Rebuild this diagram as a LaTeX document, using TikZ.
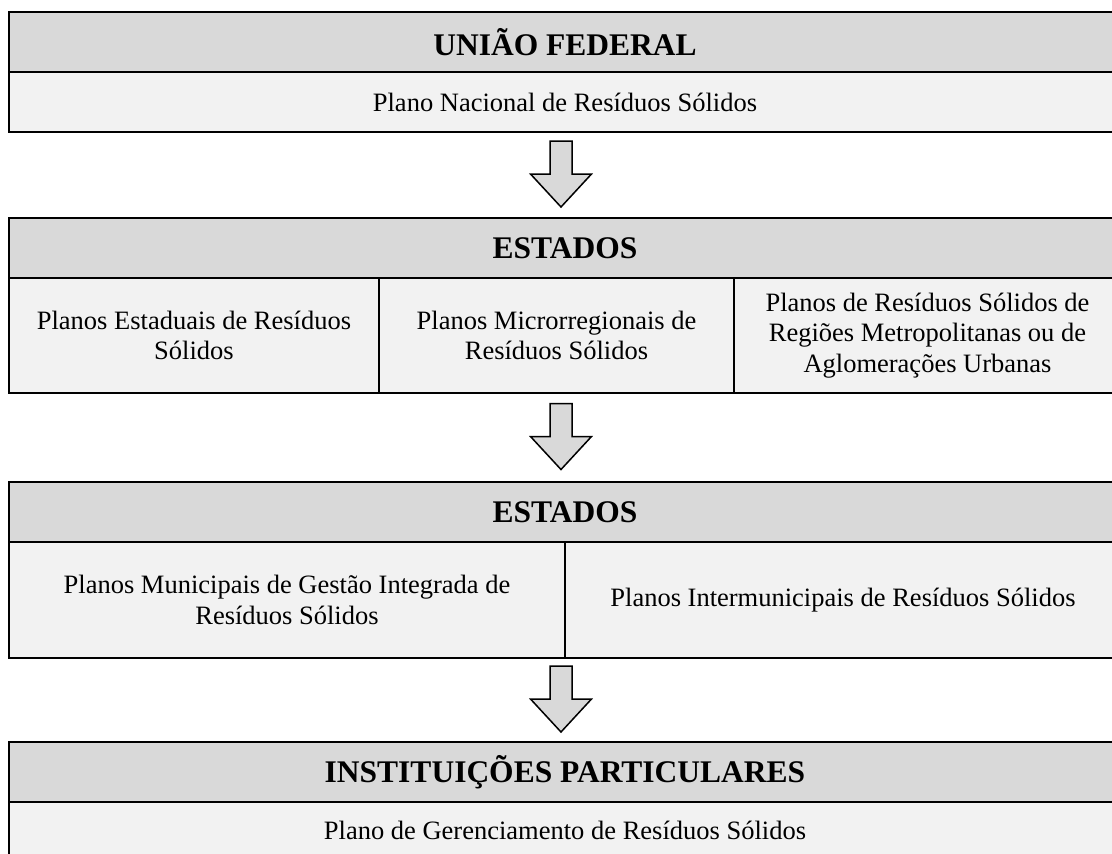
\documentclass[tikz,border=0pt]{standalone}
\usepackage{fontspec}
\setmainfont{Liberation Serif}
\definecolor{hdrgray}{HTML}{D9D9D9}
\definecolor{cellgray}{HTML}{F2F2F2}
\tikzset{
  hdr/.style={draw=black, line width=2pt, fill=hdrgray, inner sep=0pt,
    font=\fontsize{31.5}{36}\selectfont\bfseries},
  cell/.style={draw=black, line width=2pt, fill=cellgray, inner sep=0pt, align=center,
    font=\fontsize{26.5}{30.5}\selectfont},
  blockarr/.style={draw=black, line width=1.5pt, fill=hdrgray, line join=miter},
  downarr/.pic={\draw[blockarr] (-11,0) -- (-11,-33) -- (-30.5,-33) -- (0,-66)
     -- (30.5,-33) -- (11,-33) -- (11,0) -- cycle;}
}
\begin{document}
\begin{tikzpicture}[x=1pt,y=1pt]
\useasboundingbox (0,0) rectangle (1112,-854);
\clip (0,0) rectangle (1112,-854);
% Box 1
\node[hdr, minimum width=1112, minimum height=60] (h1) at (565,-42) {UNIÃO FEDERAL};
\node[cell, minimum width=1112, minimum height=60] (b1) at (565,-102) {Plano Nacional de Resíduos Sólidos};
% Box 2
\node[hdr, minimum width=1112, minimum height=60] (h2) at (565,-248) {ESTADOS};
\node[cell, minimum width=370, minimum height=115] (c21) at (194,-335.5) {Planos Estaduais de Resíduos\\Sólidos};
\node[cell, minimum width=355, minimum height=115] (c22) at (556.5,-335.5) {Planos Microrregionais de\\Resíduos Sólidos};
\node[cell, minimum width=387, minimum height=115] (c23) at (927.5,-335.5) {Planos de Resíduos Sólidos de\\Regiões Metropolitanas ou de\\Aglomerações Urbanas};
% Box 3
\node[hdr, minimum width=1112, minimum height=60] (h3) at (565,-512) {ESTADOS};
\node[cell, minimum width=556, minimum height=116] (c31) at (287,-600) {Planos Municipais de Gestão Integrada de\\Resíduos Sólidos};
\node[cell, minimum width=556, minimum height=116] (c32) at (843,-600) {Planos Intermunicipais de Resíduos Sólidos};
% Box 4
\node[hdr, minimum width=1112, minimum height=60] (h4) at (565,-772) {INSTITUIÇÕES PARTICULARES};
\node[cell, minimum width=1112, minimum height=56] (b4) at (565,-830) {Plano de Gerenciamento de Resíduos Sólidos};
% Arrows
\coordinate (a1) at (561,-141);
\coordinate (a2) at (561,-403.5);
\coordinate (a3) at (561,-666);
\pic at (a1) {downarr};
\pic at (a2) {downarr};
\pic at (a3) {downarr};
\end{tikzpicture}
\end{document}
